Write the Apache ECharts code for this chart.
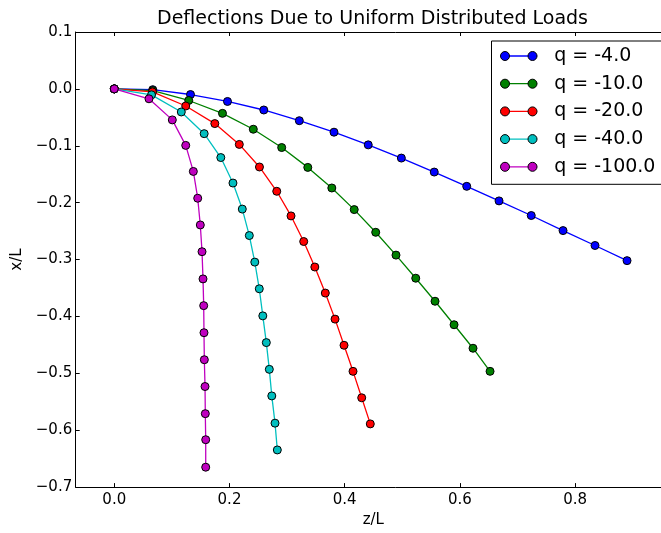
<!DOCTYPE html>
<html>
<head>
<meta charset="utf-8">
<script src="https://cdn.jsdelivr.net/npm/echarts@6/dist/echarts.min.js"></script>
<style>
  html, body { margin: 0; padding: 0; background: #fff; overflow: hidden; }
  /* the axes frame and legend box run past the right edge of the view */
  #chart { width: 760px; height: 533px; }
</style>
</head>
<body>
<div id="chart"></div>
<script>
// Load cases shown in the legend
const loadNames = ['q = -4.0', 'q = -10.0', 'q = -20.0', 'q = -40.0', 'q = -100.0'];
const loadColors = ['#0000ff', '#008000', '#ff0000', '#00bfbf', '#bf00bf'];

// Beam node positions (z/L, x/L) for each load case
const zQ4   = [0, 0.0667, 0.1323, 0.1965, 0.2595, 0.3212, 0.3814, 0.4408, 0.4983, 0.5554, 0.6118, 0.6679, 0.7238, 0.7790, 0.8345, 0.8901];
const xQ4   = [0, -0.0014, -0.0099, -0.0221, -0.0371, -0.0559, -0.0761, -0.0984, -0.1216, -0.1462, -0.1713, -0.1969, -0.2226, -0.2491, -0.2753, -0.3019];

const zQ10  = [0, 0.0668, 0.1292, 0.1878, 0.2413, 0.2906, 0.3359, 0.3776, 0.4165, 0.4538, 0.4890, 0.5233, 0.5568, 0.5898, 0.6227, 0.6523];
const xQ10  = [0, -0.0030, -0.0204, -0.0430, -0.0709, -0.1031, -0.1380, -0.1742, -0.2122, -0.2521, -0.2922, -0.3328, -0.3733, -0.4146, -0.4559, -0.4965];

const zQ20  = [0, 0.0662, 0.1240, 0.1745, 0.2170, 0.2520, 0.2820, 0.3068, 0.3288, 0.3481, 0.3663, 0.3832, 0.3988, 0.4144, 0.4295, 0.4444];
const xQ20  = [0, -0.0052, -0.0301, -0.0610, -0.0976, -0.1373, -0.1800, -0.2233, -0.2683, -0.3131, -0.3589, -0.4047, -0.4507, -0.4965, -0.5430, -0.5889];

const zQ40  = [0, 0.0646, 0.1163, 0.1560, 0.1849, 0.2060, 0.2222, 0.2344, 0.2439, 0.2517, 0.2578, 0.2639, 0.2691, 0.2734, 0.2790, 0.2830];
const xQ40  = [0, -0.0105, -0.0406, -0.0787, -0.1207, -0.1655, -0.2113, -0.2578, -0.3045, -0.3514, -0.3990, -0.4460, -0.4930, -0.5397, -0.5876, -0.6347];

const zQ100 = [0, 0.0602, 0.1007, 0.1240, 0.1372, 0.1448, 0.1493, 0.1523, 0.1540, 0.1552, 0.1557, 0.1563, 0.1575, 0.1580, 0.1587, 0.1587];
const xQ100 = [0, -0.0174, -0.0545, -0.0993, -0.1451, -0.1922, -0.2392, -0.2862, -0.3340, -0.3810, -0.4286, -0.4761, -0.5232, -0.5709, -0.6167, -0.6650];

const zSets = [zQ4, zQ10, zQ20, zQ40, zQ100];
const xSets = [xQ4, xQ10, xQ20, xQ40, xQ100];

const FONT = 'DejaVu Sans';

function tickText(v) {
  if (Math.abs(v) < 1e-9) return '0.0';
  return v.toFixed(1).replace('-', '\u2212');
}

const series = loadNames.map((name, i) => ({
  name: name,
  type: 'line',
  xAxisIndex: 0,
  yAxisIndex: 0,
  data: zSets[i].map((z, k) => [z, xSets[i][k]]),
  symbol: 'circle',
  symbolSize: 8,
  showAllSymbol: true,
  lineStyle: { color: loadColors[i], width: 1.3 },
  itemStyle: { color: loadColors[i], borderColor: '#000', borderWidth: 1 },
  emphasis: { disabled: true },
  z: 2 + i
}));

const axisCommonX = {
  type: 'value',
  min: -0.067,
  max: 1.044,
  minInterval: 0.2,
  maxInterval: 0.2,
  splitLine: { show: false },
  axisLine: { show: true, onZero: false, lineStyle: { color: '#000', width: 1 } },
  axisTick: { show: true, inside: true, length: 4, lineStyle: { color: '#000', width: 1 } }
};

// Legend frame + connecting line, and a second layer that draws the two end markers
const legendBase = {
  orient: 'vertical',
  left: 491.5,
  top: 41,
  padding: [5.5, 15, 8, 8.5],
  itemWidth: 36.5,
  itemHeight: 9,
  itemGap: 8.7,
  selectedMode: false,
  data: loadNames
};

const markerPath = 'path://M0,4.5A4.5,4.5,0,1,1,9,4.5A4.5,4.5,0,1,1,0,4.5Z' +
                   'M27.5,4.5A4.5,4.5,0,1,1,36.5,4.5A4.5,4.5,0,1,1,27.5,4.5Z';

const option = {
  animation: false,
  backgroundColor: '#fff',
  textStyle: { fontFamily: FONT },
  title: {
    text: 'Deflections Due to Uniform Distributed Loads',
    left: 157,
    top: 10,
    padding: 0,
    textStyle: { fontFamily: FONT, fontSize: 19, fontWeight: 'normal', color: '#000' }
  },
  grid: { left: 75.7, top: 32, width: 640, height: 458.6, containLabel: false },
  xAxis: [
    Object.assign({}, axisCommonX, {
      position: 'bottom',
      name: 'z/L',
      nameLocation: 'middle',
      nameGap: 24,
      // right padding shifts the centred name left to the visible frame's middle
      nameTextStyle: { fontFamily: FONT, fontSize: 15, color: '#000', padding: [0, 44.8, 0, 0] },
      axisLabel: {
        show: true, fontFamily: FONT, fontSize: 15, color: '#000', margin: 6,
        showMinLabel: false, showMaxLabel: false, formatter: tickText
      }
    }),
    Object.assign({}, axisCommonX, {
      position: 'top',
      axisLabel: { show: false }
    })
  ],
  yAxis: [{
    type: 'value',
    position: 'left',
    min: -0.7,
    max: 0.1,
    interval: 0.1,
    splitLine: { show: false },
    axisLine: { show: true, onZero: false, lineStyle: { color: '#000', width: 1 } },
    axisTick: { show: true, inside: true, length: 4, lineStyle: { color: '#000', width: 1 } },
    axisLabel: { fontFamily: FONT, fontSize: 15, color: '#000', margin: 3.5, formatter: tickText },
    name: 'x/L',
    nameLocation: 'middle',
    nameGap: 47,
    nameTextStyle: { fontFamily: FONT, fontSize: 15, color: '#000' }
  }],
  legend: [
    Object.assign({}, legendBase, {
      z: 10,
      backgroundColor: '#fff',
      borderColor: '#000',
      borderWidth: 1,
      borderRadius: 0,
      itemStyle: { opacity: 0 },
      lineStyle: { width: 1.3 },
      textStyle: { fontFamily: FONT, fontSize: 19, lineHeight: 19, color: '#000', padding: [0, 0, 0, 12] }
    }),
    Object.assign({}, legendBase, {
      z: 11,
      icon: markerPath,
      borderWidth: 0,
      backgroundColor: 'transparent',
      itemStyle: { borderColor: '#000', borderWidth: 1 },
      textStyle: { fontFamily: FONT, fontSize: 19, lineHeight: 19, color: 'rgba(0,0,0,0)', padding: [0, 0, 0, 12] }
    })
  ],
  series: series
};

const chart = echarts.init(document.getElementById('chart'), null, { renderer: 'canvas' });
chart.setOption(option);
</script>
</body>
</html>
